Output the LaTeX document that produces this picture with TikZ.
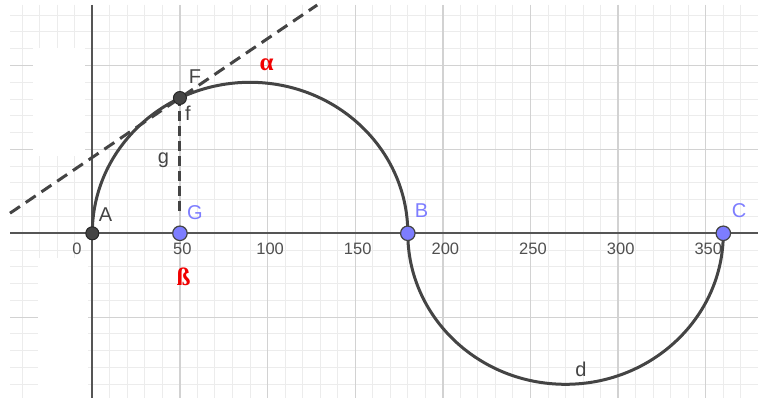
\documentclass[tikz,border=0pt]{standalone}
\usepackage{fontspec}
\setmainfont{Liberation Sans}
\newfontfamily\redserif{Liberation Serif}
\definecolor{gridmin}{RGB}{236,236,236}
\definecolor{gridmaj}{RGB}{210,210,210}
\definecolor{ink}{RGB}{68,68,68}
\definecolor{axiscol}{RGB}{85,85,85}
\definecolor{tickcol}{RGB}{80,80,80}
\definecolor{ptblue}{RGB}{125,125,255}
\definecolor{lblred}{RGB}{240,0,0}
\begin{document}
\begin{tikzpicture}[x=1pt,y=-1pt,
  gridminor/.style={draw=gridmin,line width=1pt},
  gridmajor/.style={draw=gridmaj,line width=1.4pt},
  axisline/.style={draw=axiscol,line width=2pt},
  curve/.style={draw=ink,line width=3pt},
  dashline/.style={draw=ink,line width=3pt,dash pattern=on 12pt off 7pt},
  dashvert/.style={draw=ink,line width=3pt,dash pattern=on 10pt off 5pt},
  darkpt/.style={circle,fill=ink,draw=black!85,line width=1pt,minimum size=13pt,inner sep=0pt},
  bluept/.style={circle,fill=ptblue,draw=ink,line width=1.2pt,minimum size=14.5pt,inner sep=0pt},
  lbl/.style={text=ink,font=\fontsize{20}{20}\selectfont,inner sep=0pt},
  bluelbl/.style={text=ptblue,font=\fontsize{20}{20}\selectfont,inner sep=0pt},
  ticklbl/.style={text=tickcol,font=\fontsize{16.5}{16.5}\selectfont,inner sep=0pt},
  redlbl/.style={text=lblred,font=\redserif\bfseries\fontsize{25}{25}\selectfont,inner sep=0pt}]
\useasboundingbox (0,0) rectangle (758,398);
\fill[white] (0,0) rectangle (758,398);
% minor grid
\foreach \k in {-4,...,37} \draw[gridminor] ({92.3+\k*17.528},5) -- ({92.3+\k*17.528},398);
\foreach \j in {-13,...,9} \draw[gridminor] (10,{233.3+\j*16.78}) -- (758,{233.3+\j*16.78});
% major grid
\foreach \k in {1,...,7} \draw[gridmajor] ({92.3+\k*87.64},5) -- ({92.3+\k*87.64},398);
\foreach \j in {-2,-1,1} \draw[gridmajor] (10,{233.3+\j*83.9}) -- (758,{233.3+\j*83.9});
% white masks
\fill[white] (33,48) rectangle (85,156);
\fill[white] (38,258) rectangle (88,398);
% axes
\draw[axisline] (10,233.3) -- (758,233.3);
\draw[axisline] (92.3,5) -- (92.3,398);
% coordinates
\coordinate (cA) at (92.3,233.3);
\coordinate (cG) at (179.94,233.3);
\coordinate (cB) at (407.8,233.3);
\coordinate (cC) at (723.3,233.3);
\coordinate (cF) at (179.94,98);
\coordinate (L1) at (10,213.2);
\coordinate (L2) at (317.2,5);
\coordinate (gEnd) at (179.94,211);
% dashed lines
\draw[dashline] (L1) -- (cF) -- (L2);
\draw[dashvert] (gEnd) -- (cF);
% curves
\draw[curve] (cA) arc[start angle=180,end angle=360,x radius=157.75,y radius=151];
\draw[curve] (cB) arc[start angle=180,end angle=0,x radius=157.75,y radius=151];
% points
\node[darkpt] (A) at (cA) {};
\node[darkpt] (F) at (cF) {};
\node[bluept] (G) at (cG) {};
\node[bluept] (B) at (cB) {};
\node[bluept] (C) at (cC) {};
% tick labels
\node[ticklbl] (t0) at (77,249) {0};
\node[ticklbl] (t50) at (182.4,249) {50};
\node[ticklbl] (t100) at (270.1,249) {100};
\node[ticklbl] (t150) at (357.7,249) {150};
\node[ticklbl] (t200) at (445.4,249) {200};
\node[ticklbl] (t250) at (533,249) {250};
\node[ticklbl] (t300) at (620.7,249) {300};
\node[ticklbl] (t350) at (708.3,249) {350};
% letter labels
\node[lbl] (lA) at (105.5,214.5) {A};
\node[lbl] (lF) at (195,76.7) {F};
\node[lbl] (lf) at (188,113.5) {f};
\node[lbl] (lg) at (163.5,160) {g};
\node[lbl] (ld) at (581,369) {d};
\node[bluelbl] (lG) at (195,212.5) {G};
\node[bluelbl] (lB) at (421.5,211) {B};
\node[bluelbl] (lC) at (739,211) {C};
\node[redlbl] (alpha) at (266.5,65) {α};
\node[redlbl] (beta) at (183.5,277) {ß};
\end{tikzpicture}
\end{document}
